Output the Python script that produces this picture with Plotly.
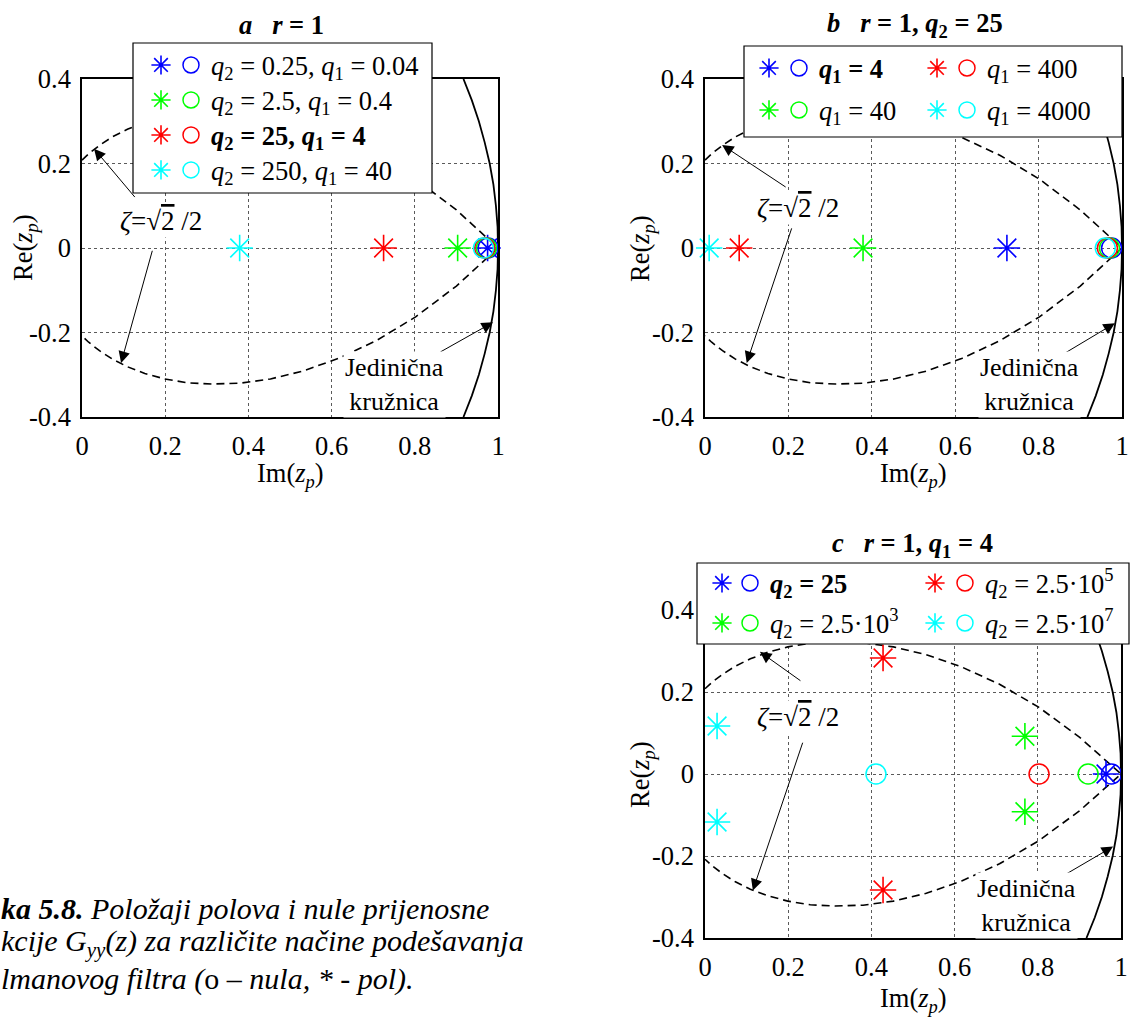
import plotly.graph_objects as go

FONT = "'Liberation Serif', 'Times New Roman', Times, serif"
W, H = 1131, 1018

# ---------------- data ----------------
colors = ["#0000ff", "#00ff00", "#ff0000", "#00ffff"]

x_ticks = [0, 0.2, 0.4, 0.6, 0.8, 1]
x_ticklabels = ["0", "0.2", "0.4", "0.6", "0.8", "1"]
y_ticks = [-0.4, -0.2, 0, 0.2, 0.4]
y_ticklabels = ["-0.4", "-0.2", "0", "0.2", "0.4"]

# panel a  (r = 1)
a_names = ["<i>q</i><sub>2</sub> = 0.25, <i>q</i><sub>1</sub> = 0.04",
           "<i>q</i><sub>2</sub> = 2.5, <i>q</i><sub>1</sub> = 0.4",
           "<b><i>q</i><sub>2</sub> = 25, <i>q</i><sub>1</sub> = 4</b>",
           "<i>q</i><sub>2</sub> = 250, <i>q</i><sub>1</sub> = 40"]
a_pole_x = [[0.975], [0.903], [0.725], [0.379]]
a_pole_y = [[0.0], [0.0], [0.0], [0.0]]
a_zero_x = [[0.976], [0.972], [0.968], [0.965]]
a_zero_y = [[0.0], [0.0], [0.0], [0.0]]

# panel b  (r = 1, q2 = 25)
b_names = ["<b><i>q</i><sub>1</sub> = 4</b>",
           "<i>q</i><sub>1</sub> = 40",
           "<i>q</i><sub>1</sub> = 400",
           "<i>q</i><sub>1</sub> = 4000"]
b_pole_x = [[0.724], [0.379], [0.082], [0.010]]
b_pole_y = [[0.0], [0.0], [0.0], [0.0]]
b_zero_x = [[0.975], [0.970], [0.965], [0.960]]
b_zero_y = [[0.0], [0.0], [0.0], [0.0]]

# panel c  (r = 1, q1 = 4)
c_names = ["<b><i>q</i><sub>2</sub> = 25</b>",
           "<i>q</i><sub>2</sub> = 2.5·10<sup>3</sup>",
           "<i>q</i><sub>2</sub> = 2.5·10<sup>5</sup>",
           "<i>q</i><sub>2</sub> = 2.5·10<sup>7</sup>"]
c_pole_x = [[0.964], [0.769, 0.769], [0.428, 0.428], [0.029, 0.029]]
c_pole_y = [[0.0], [0.092, -0.092], [0.283, -0.283], [0.117, -0.117]]
c_zero_x = [[0.977], [0.921], [0.803], [0.411]]
c_zero_y = [[0.0], [0.0], [0.0], [0.0]]

# constant damping locus zeta = sqrt(2)/2 (upper branch)
locus_x = [0.0, 0.016, 0.042, 0.073, 0.109, 0.151, 0.199, 0.253, 0.313, 0.380,
           0.453, 0.532, 0.617, 0.708, 0.802, 0.900, 1.0]
locus_y = [0.208, 0.223, 0.243, 0.263, 0.281, 0.297, 0.310, 0.319, 0.322, 0.320,
           0.310, 0.291, 0.261, 0.219, 0.163, 0.090, 0.0]

# unit circle
circle_x = [0.917, 0.937, 0.954, 0.968, 0.980, 0.989, 0.995, 0.999, 1.0,
            0.999, 0.995, 0.989, 0.980, 0.968, 0.954, 0.937, 0.917]
circle_y = [-0.4, -0.35, -0.3, -0.25, -0.2, -0.15, -0.1, -0.05, 0.0,
            0.05, 0.1, 0.15, 0.2, 0.25, 0.3, 0.35, 0.4]

titles = ["<b><i>a</i>\u00a0\u00a0\u00a0<i>r</i> = 1</b>",
          "<b><i>b</i>\u00a0\u00a0\u00a0<i>r</i> = 1, <i>q</i><sub>2</sub> = 25</b>",
          "<b><i>c</i>\u00a0\u00a0\u00a0<i>r</i> = 1, <i>q</i><sub>1</sub> = 4</b>"]

caption_lines = ["<b>ka 5.8.</b> Položaji polova i nule prijenosne",
                 "kcije G<sub>yy</sub>(z) za različite načine podešavanja",
                 "lmanovog filtra (</i>o<i> – nula, * - pol)."]

# ---------------- layout helpers (pixels -> paper) ----------------
def px_x(p):
    return p / W

def px_y(p):
    return 1 - p / H

panels = {
    "a": dict(xa="x", ya="y", xdom=[82, 498], ydom=[79, 417]),
    "b": dict(xa="x2", ya="y2", xdom=[705, 1122], ydom=[79, 417]),
    "c": dict(xa="x3", ya="y3", xdom=[705, 1121], ydom=[610, 938]),
}

fig = go.Figure()

lx = locus_x + locus_x[-2::-1]
ly = locus_y + [-v for v in locus_y[-2::-1]]

def add_curves(xa, ya):
    fig.add_trace(go.Scatter(x=lx, y=ly, mode="lines", xaxis=xa, yaxis=ya,
                             line=dict(color="black", width=1.6, dash="8px,5px"),
                             showlegend=False, hoverinfo="skip"))
    fig.add_trace(go.Scatter(x=circle_x, y=circle_y, mode="lines", xaxis=xa, yaxis=ya,
                             line=dict(color="black", width=1.8),
                             showlegend=False, hoverinfo="skip"))

LEG_TXT = 26.5

def add_series(xa, ya, names, px_, py_, zx, zy, pole_legends, zero_legends, tag):
    for i in range(4):
        fig.add_trace(go.Scatter(
            x=px_[i], y=py_[i], mode="markers", xaxis=xa, yaxis=ya, name=" ",
            marker=dict(symbol="asterisk-open", size=22, color=colors[i],
                        line=dict(color=colors[i], width=1.6)),
            cliponaxis=False, legend=pole_legends[i], legendgroup=f"{tag}p{i}"))
        fig.add_trace(go.Scatter(
            x=zx[i], y=zy[i], mode="markers", xaxis=xa, yaxis=ya,
            name=f"<span style='font-size:{LEG_TXT}px'>{names[i]}</span>",
            marker=dict(symbol="circle-open", size=20, color=colors[i],
                        line=dict(color=colors[i], width=1.5)),
            cliponaxis=False, legend=zero_legends[i], legendgroup=f"{tag}z{i}"))

for key in ["a", "b", "c"]:
    add_curves(panels[key]["xa"], panels[key]["ya"])

add_series("x", "y", a_names, a_pole_x, a_pole_y, a_zero_x, a_zero_y,
           ["legend"] * 4, ["legend2"] * 4, "a")
add_series("x2", "y2", b_names, b_pole_x, b_pole_y, b_zero_x, b_zero_y,
           ["legend3", "legend3", "legend5", "legend5"],
           ["legend4", "legend4", "legend6", "legend6"], "b")
add_series("x3", "y3", c_names, c_pole_x, c_pole_y, c_zero_x, c_zero_y,
           ["legend7", "legend7", "legend9", "legend9"],
           ["legend8", "legend8", "legend10", "legend10"], "c")

def legend_cfg(left, first_center, gap):
    # item height = 1.3*font + 3 = 35 px ; first item centre = top + 5 + 17.5
    return dict(x=px_x(left), y=px_y(first_center - 22.5), xanchor="left", yanchor="top",
                bgcolor="rgba(0,0,0,0)", borderwidth=0, orientation="v",
                traceorder="grouped", tracegroupgap=gap,
                font=dict(family=FONT, size=24.6, color="black"),
                itemclick=False, itemdoubleclick=False)

TICK = 26.5

def axis_cfg(dom, letter):
    common = dict(showline=True, mirror=True, linecolor="black", linewidth=1.5,
                  showgrid=True, gridcolor="#5a5a5a", griddash="dot", gridwidth=1,
                  zeroline=False, ticks="", fixedrange=True, automargin=False,
                  tickfont=dict(family=FONT, size=TICK, color="black"))
    if letter == "x":
        common.update(domain=[px_x(dom[0]), px_x(dom[1])], range=[0, 1],
                      tickmode="array", tickvals=x_ticks, ticktext=x_ticklabels,
                      ticklabelstandoff=4)
    else:
        common.update(domain=[px_y(dom[1]), px_y(dom[0])], range=[-0.4, 0.4],
                      tickmode="array", tickvals=y_ticks, ticktext=y_ticklabels,
                      ticklabelstandoff=4)
    return common

layout = dict(
    width=W, height=H, margin=dict(l=0, r=0, t=0, b=0, autoexpand=False),
    paper_bgcolor="white", plot_bgcolor="white",
    font=dict(family=FONT, color="black", size=24),
    showlegend=True,
    legend=legend_cfg(141, 65, 0),
    legend2=legend_cfg(171, 65, 0),
    legend3=legend_cfg(749, 68, 7),
    legend4=legend_cfg(779, 68, 7),
    legend5=legend_cfg(917, 68, 7),
    legend6=legend_cfg(947, 68, 7),
    legend7=legend_cfg(702, 583, 5),
    legend8=legend_cfg(730, 583, 5),
    legend9=legend_cfg(915, 583, 5),
    legend10=legend_cfg(945, 583, 5),
)
for key, suffix in [("a", ""), ("b", "2"), ("c", "3")]:
    p = panels[key]
    xa = axis_cfg(p["xdom"], "x")
    ya = axis_cfg(p["ydom"], "y")
    xa["anchor"] = "y" + suffix
    ya["anchor"] = "x" + suffix
    layout["xaxis" + suffix] = xa
    layout["yaxis" + suffix] = ya
fig.update_layout(**layout)

# legend boxes
for (x0, y0, x1, y1) in [(133, 43, 432, 193), (744, 46, 1122, 137), (697, 563, 1129, 644)]:
    fig.add_shape(type="rect", xref="paper", yref="paper",
                  x0=px_x(x0), x1=px_x(x1), y0=px_y(y1), y1=px_y(y0),
                  fillcolor="white", line=dict(color="black", width=1.2), layer="above")

# panel titles
for t, (cx, cy) in zip(titles, [(281, 25), (915, 25), (912, 545)]):
    fig.add_annotation(text=t, xref="paper", yref="paper", x=px_x(cx), y=px_y(cy),
                       xanchor="center", yanchor="middle", showarrow=False,
                       font=dict(family=FONT, size=26.5, color="black"))

# axis titles
xtitle = "Im(<i>z</i><sub><i>p</i></sub>)"
ytitle = "Re(<i>z</i><sub><i>p</i></sub>)"
for (cx, cy) in [(290, 475), (913, 475), (913, 1000)]:
    fig.add_annotation(text=xtitle, xref="paper", yref="paper", x=px_x(cx), y=px_y(cy),
                       xanchor="center", yanchor="middle", showarrow=False,
                       font=dict(family=FONT, size=26.5, color="black"))
for (cx, cy) in [(25, 248), (642, 248), (642, 774)]:
    fig.add_annotation(text=ytitle, xref="paper", yref="paper", x=px_x(cx), y=px_y(cy),
                       xanchor="center", yanchor="middle", showarrow=False, textangle=-90,
                       font=dict(family=FONT, size=26.5, color="black"))

zeta_text = "<i>ζ</i>=√<span style='text-decoration:overline'>2</span> /2"
ann_pos = {
    "a": dict(zeta=(0.19, 0.064), arrows=[((0.029, 0.235), (0.13, 0.117)),
                                          ((0.094, -0.272), (0.17, -0.003))],
              jed=(0.75, -0.322), jarrow=((0.988, -0.176), (0.858, -0.248))),
    "b": dict(zeta=(0.223, 0.095), arrows=[((0.041, 0.244), (0.197, 0.142)),
                                           ((0.10, -0.272), (0.209, 0.05))],
              jed=(0.777, -0.324), jarrow=((0.983, -0.178), (0.856, -0.253))),
    "c": dict(zeta=(0.224, 0.138), arrows=[((0.132, 0.298), (0.233, 0.225)),
                                           ((0.115, -0.284), (0.236, 0.08))],
              jed=(0.774, -0.32), jarrow=((0.981, -0.177), (0.858, -0.25))),
}
for key in ["a", "b", "c"]:
    p = panels[key]
    q = ann_pos[key]
    xr, yr = p["xa"], p["ya"]
    for (hx, hy), (tx, ty) in q["arrows"] + [q["jarrow"]]:
        fig.add_annotation(x=hx, y=hy, ax=tx, ay=ty, xref=xr, yref=yr, axref=xr, ayref=yr,
                           text="", showarrow=True, arrowhead=2, arrowsize=2.3,
                           arrowwidth=1, arrowcolor="black")
    fig.add_annotation(x=q["zeta"][0], y=q["zeta"][1], xref=xr, yref=yr, text=zeta_text,
                       showarrow=False, bgcolor="white",
                       font=dict(family=FONT, size=27, color="black"))
    fig.add_annotation(x=q["jed"][0], y=q["jed"][1], xref=xr, yref=yr,
                       text="Jedinična<br>kružnica", showarrow=False, bgcolor="white",
                       font=dict(family=FONT, size=26, color="black"))

# caption (cut at the left edge as in the reference)
for line, cy in zip(caption_lines, [908, 943, 979]):
    fig.add_annotation(text="<i>" + line + "</i>", xref="paper", yref="paper",
                       x=0, y=px_y(cy), xanchor="left", yanchor="middle", align="left",
                       showarrow=False, borderpad=0,
                       font=dict(family=FONT, size=30, color="black"))

fig.write_html("out.html", config={"displayModeBar": False},
               post_script="document.body.style.margin='0px';")
